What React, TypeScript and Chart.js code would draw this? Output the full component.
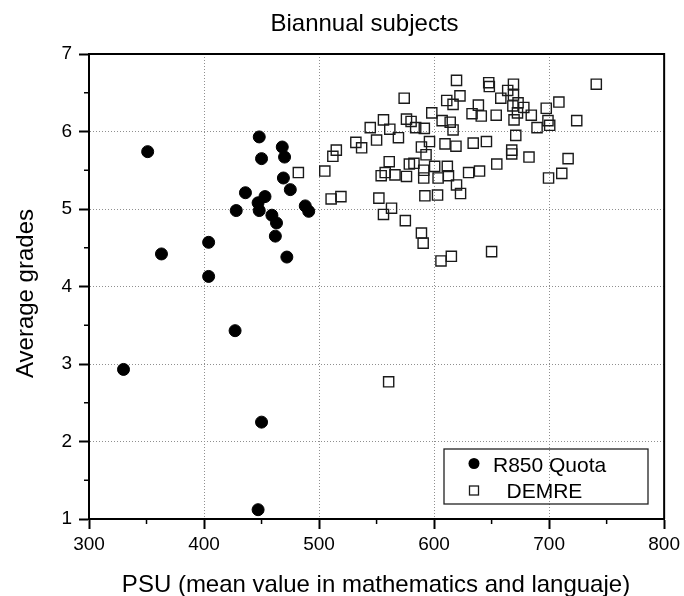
import React, { useEffect, useRef } from "react";
import { Chart, registerables } from "chart.js";

Chart.register(...registerables);

const chartTitle = "Biannual subjects";
const xAxisTitle = "PSU (mean value in mathematics and languaje)";
const yAxisTitle = "Average grades";
const seriesNames = ["R850 Quota", "DEMRE"];

const xTickValues = [300, 400, 500, 600, 700, 800];
const yTickValues = [1, 2, 3, 4, 5, 6, 7];
const xMinorTicks = [350, 450, 550, 650, 750];
const yMinorTicks = [1.5, 2.5, 3.5, 4.5, 5.5, 6.5];

const quotaX = [330, 351, 363, 404, 404, 427, 428, 436, 447, 448, 448, 450, 453, 450, 447, 459, 462, 463, 468, 469, 470, 472, 475, 488, 491];
const quotaY = [2.93, 5.74, 4.42, 4.57, 4.13, 3.43, 4.98, 5.21, 5.08, 4.98, 5.93, 5.65, 5.16, 2.25, 1.12, 4.92, 4.65, 4.82, 5.8, 5.4, 5.67, 4.38, 5.25, 5.04, 4.97];

const demreX = [
  482, 505, 515, 512, 510.5, 519, 532, 537, 544.5, 550, 556, 561.5, 569, 574, 576, 580, 584, 591.5, 598, 596,
  589, 593, 561, 557.5, 554, 566, 576, 578.5, 582.5, 591, 591, 600.5, 603.5, 611.5, 612.5, 619.5, 623, 592, 603, 552,
  563, 556, 575, 589, 590.5, 606, 615, 619.5, 622.5, 611, 616.5, 607, 614, 616.5, 609.5, 619, 633, 634, 630, 638.5,
  647.5, 648, 669, 664, 658, 669, 641, 654, 668.5, 673, 678, 684.5, 669.5, 672.5, 689.5, 697.5, 699, 700.5, 708.5, 724,
  741, 671, 645.5, 667.5, 667.5, 682.5, 716.5, 654.5, 639.5, 711, 699.5, 650, 560.5,
];
const demreY = [
  5.47, 5.49, 5.76, 5.68, 5.13, 5.16, 5.86, 5.79, 6.05, 5.89, 6.15, 6.03, 5.92, 6.43, 6.16, 6.13, 6.05, 6.04, 6.24, 5.87,
  5.8, 5.7, 5.61, 5.47, 5.43, 5.44, 5.42, 5.58, 5.59, 5.5, 5.4, 5.55, 5.4, 5.55, 5.43, 5.31, 5.2, 5.17, 5.18, 5.14,
  5.01, 4.93, 4.85, 4.69, 4.56, 4.33, 4.39, 6.66, 6.46, 6.4, 6.35, 6.14, 6.12, 6.02, 5.84, 5.81, 6.23, 5.85, 5.47, 6.34,
  6.63, 6.58, 6.61, 6.53, 6.43, 6.47, 6.2, 6.21, 6.33, 6.37, 6.31, 6.21, 6.15, 6.24, 6.05, 6.3, 6.14, 6.08, 6.38, 6.14,
  6.61, 5.95, 5.87, 5.76, 5.71, 5.67, 5.65, 5.58, 5.49, 5.46, 5.4, 4.45, 2.77,
];

const FONT = "'Liberation Sans', Arial, Helvetica, sans-serif";

const decorPlugin = {
  id: "decor",
  afterDraw(chart: any) {
    const { ctx, chartArea } = chart;
    const xs = chart.scales.x;
    const ys = chart.scales.y;
    const { left, right, top, bottom } = chartArea;
    ctx.save();
    // frame top/right
    ctx.strokeStyle = "#000";
    ctx.lineWidth = 2;
    ctx.beginPath();
    ctx.moveTo(left, top);
    ctx.lineTo(right, top);
    ctx.lineTo(right, bottom);
    ctx.stroke();
    // minor ticks
    ctx.lineWidth = 1.5;
    ctx.beginPath();
    xMinorTicks.forEach((v) => {
      const px = xs.getPixelForValue(v);
      ctx.moveTo(px, bottom);
      ctx.lineTo(px, bottom + 5);
    });
    yMinorTicks.forEach((v) => {
      const py = ys.getPixelForValue(v);
      ctx.moveTo(left, py);
      ctx.lineTo(left - 5, py);
    });
    ctx.stroke();

    // titles
    ctx.fillStyle = "#000";
    ctx.font = `24px ${FONT}`;
    ctx.textAlign = "center";
    ctx.textBaseline = "alphabetic";
    ctx.fillText(chartTitle, 364.5, 30.5);
    ctx.fillText(xAxisTitle, 376, 592);
    ctx.save();
    ctx.translate(32.5, 293.5);
    ctx.rotate(-Math.PI / 2);
    ctx.fillText(yAxisTitle, 0, 0);
    ctx.restore();

    // legend
    ctx.strokeStyle = "#222";
    ctx.lineWidth = 1.3;
    ctx.strokeRect(444, 449, 204, 55);
    ctx.fillStyle = "#000";
    ctx.beginPath();
    ctx.arc(474, 463.5, 5.5, 0, Math.PI * 2);
    ctx.fill();
    ctx.strokeStyle = "#1a1a1a";
    ctx.lineWidth = 1.3;
    ctx.strokeRect(469.5, 486, 9, 9);
    ctx.font = `21px ${FONT}`;
    ctx.textAlign = "left";
    ctx.fillText(seriesNames[0], 493, 471.5);
    ctx.fillText(seriesNames[1], 506.5, 498);
    ctx.restore();
  },
};

export default function App() {
  const ref = useRef<HTMLCanvasElement | null>(null);
  useEffect(() => {
    document.body.style.margin = "0";
    const canvas = ref.current;
    if (!canvas) return;
    const edgeX = (c: any) => (c.tick && (c.tick.value === 300 || c.tick.value === 800) ? "rgba(0,0,0,0)" : "#8f8f8f");
    const edgeY = (c: any) => (c.tick && (c.tick.value === 1 || c.tick.value === 7) ? "rgba(0,0,0,0)" : "#8f8f8f");
    const chart = new Chart(canvas, {
      type: "scatter",
      data: {
        datasets: [
          {
            label: seriesNames[0],
            data: quotaX.map((x, i) => ({ x, y: quotaY[i] })),
            pointStyle: "circle",
            pointRadius: 6,
            pointBackgroundColor: "#000",
            pointBorderColor: "#000",
            pointBorderWidth: 1,
          },
          {
            label: seriesNames[1],
            data: demreX.map((x, i) => ({ x, y: demreY[i] })),
            pointStyle: "rect",
            pointRadius: 7.2,
            pointBackgroundColor: "rgba(255,255,255,0)",
            pointBorderColor: "#1a1a1a",
            pointBorderWidth: 1.4,
          },
        ],
      },
      options: {
        responsive: false,
        animation: false,
        layout: { padding: { left: 0, top: 54, right: 17, bottom: 0 } },
        plugins: { legend: { display: false }, title: { display: false }, tooltip: { enabled: false } },
        scales: {
          x: {
            type: "linear",
            min: 300,
            max: 800,
            afterBuildTicks: (s: any) => {
              s.ticks = xTickValues.map((v) => ({ value: v }));
            },
            afterFit: (s: any) => {
              s.height = 77;
            },
            grid: { color: edgeX, lineWidth: 1, tickColor: "#000", tickLength: 10, tickWidth: 2 },
            border: { display: true, color: "#000", width: 2, dash: [1, 2] },
            ticks: { color: "#000", font: { family: FONT, size: 19 }, padding: 4, maxRotation: 0 },
          },
          y: {
            type: "linear",
            min: 1,
            max: 7,
            afterBuildTicks: (s: any) => {
              s.ticks = yTickValues.map((v) => ({ value: v }));
            },
            afterFit: (s: any) => {
              s.width = 89;
            },
            grid: { color: edgeY, lineWidth: 1, tickColor: "#000", tickLength: 10, tickWidth: 2 },
            border: { display: true, color: "#000", width: 2, dash: [1, 2] },
            ticks: { color: "#000", font: { family: FONT, size: 19 }, padding: 7 },
          },
        },
      },
      plugins: [decorPlugin],
    } as any);
    return () => chart.destroy();
  }, []);
  return <canvas ref={ref} width={684} height={596} style={{ display: "block" }} />;
}
